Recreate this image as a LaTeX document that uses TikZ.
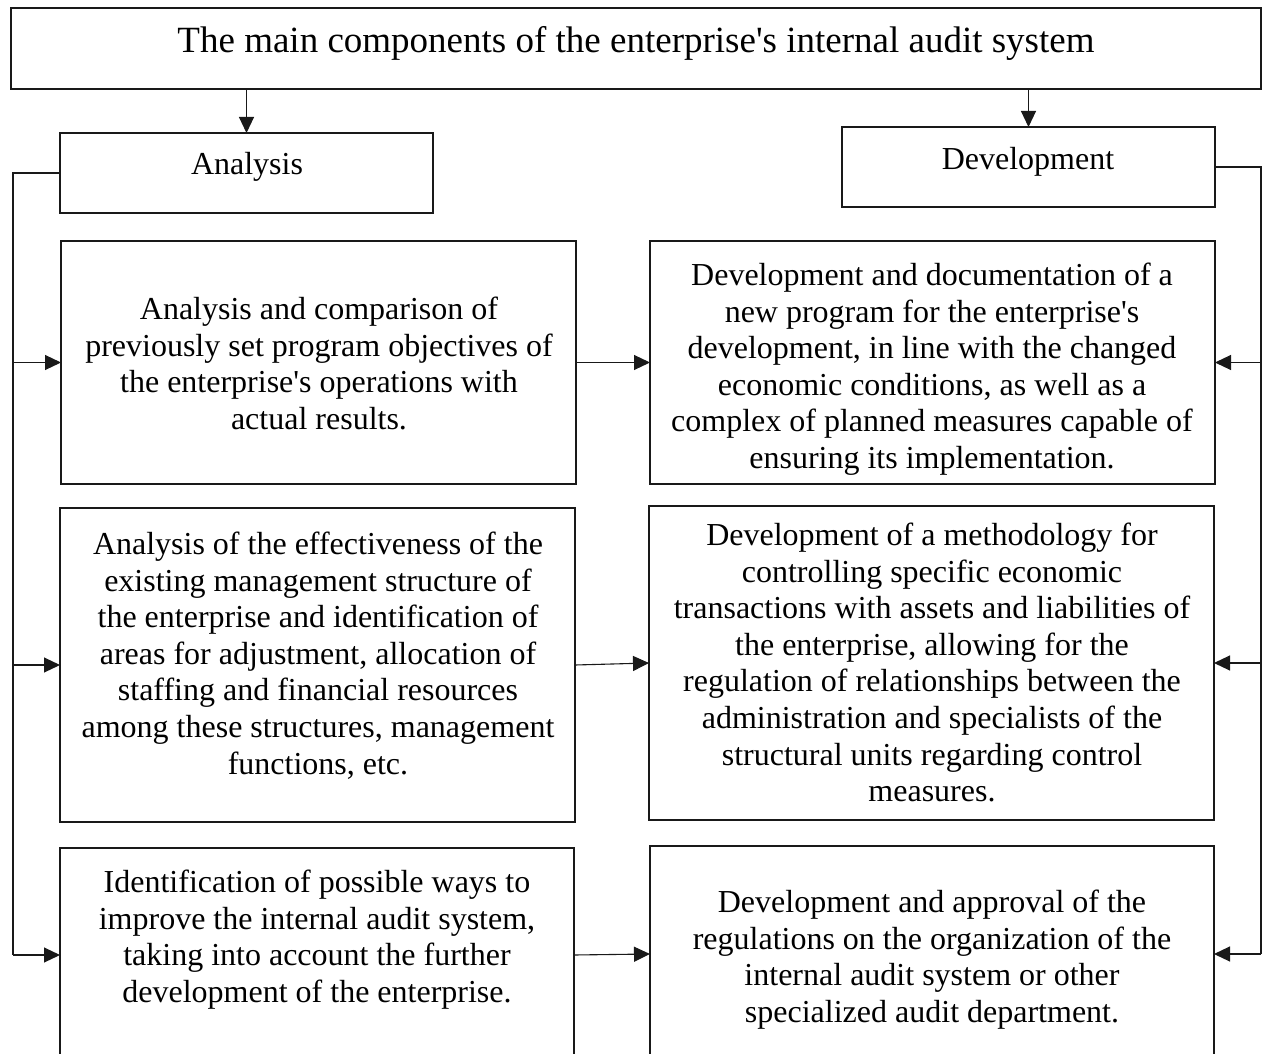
\documentclass[tikz,border=0pt]{standalone}
\usepackage{fontspec}
\setmainfont{Liberation Serif}
\usetikzlibrary{arrows.meta}
\newcommand{\apo}{\textquotesingle}
\begin{document}
\begin{tikzpicture}[x=1pt,y=-1pt,
  box/.style={draw=black!90, line width=1.1pt, rectangle, inner sep=0pt, outer sep=0pt},
  txt/.style={inner sep=0pt, outer sep=0pt, align=center, font=\fontsize{32}{36.6}\selectfont},
  ln/.style={draw=black!90, line width=1.1pt},
  arr/.style={ln, -{Triangle[length=16pt,width=15pt]}}]
\useasboundingbox (0,0) rectangle (1262,1054);
\clip (0,0) rectangle (1262,1054);
% boxes
\node[box, minimum width=1250, minimum height=81] (T) at (636,48.5) {};
\node[box, minimum width=373, minimum height=80] (A) at (246.5,173) {};
\node[box, minimum width=373, minimum height=80] (D) at (1028.5,167) {};
\node[box, minimum width=515, minimum height=243] (L1) at (318.5,362.5) {};
\node[box, minimum width=565, minimum height=243] (R1) at (932.5,362.5) {};
\node[box, minimum width=515, minimum height=314] (L2) at (317.5,665) {};
\node[box, minimum width=565, minimum height=314] (R2) at (931.5,663) {};
\node[box, minimum width=514, minimum height=252] (L3) at (317,974) {};
\node[box, minimum width=564, minimum height=254] (R3) at (932,973) {};
% texts
\node[txt, anchor=base, font=\fontsize{37}{42}\selectfont] (Tt) at (636,53) {The main components of the enterprise\apo s internal audit system};
\node[txt, anchor=base] (At) at (247,175) {Analysis};
\node[txt, anchor=base] (Dt) at (1028,170) {Development};
\node[txt, anchor=north] (L1t) at (319,297) {Analysis and comparison of\\previously set program objectives of\\the enterprise\apo s operations with\\actual results.};
\node[txt, anchor=north] (R1t) at (932,263) {Development and documentation of a\\new program for the enterprise\apo s\\development, in line with the changed\\economic conditions, as well as a\\complex of planned measures capable of\\ensuring its implementation.};
\node[txt, anchor=north] (L2t) at (318,532) {Analysis of the effectiveness of the\\existing management structure of\\the enterprise and identification of\\areas for adjustment, allocation of\\staffing and financial resources\\among these structures, management\\functions, etc.};
\node[txt, anchor=north] (R2t) at (932,523) {Development of a methodology for\\controlling specific economic\\transactions with assets and liabilities of\\the enterprise, allowing for the\\regulation of relationships between the\\administration and specialists of the\\structural units regarding control\\measures.};
\node[txt, anchor=north] (L3t) at (317,870) {Identification of possible ways to\\improve the internal audit system,\\taking into account the further\\development of the enterprise.};
\node[txt, anchor=north] (R3t) at (932,890) {Development and approval of the\\regulations on the organization of the\\internal audit system or other\\specialized audit department.};
% helper coordinates
\coordinate (lx) at (13,0);
\coordinate (rx) at (1261,0);
\coordinate (y3) at (0,955);
\coordinate (y3r) at (0,954);
% top arrows
\draw[arr] (T.south -| A.north) -- (A.north);
\draw[arr] (T.south -| D.north) -- (D.north);
% left bracket
\draw[ln] (A.west) -| (lx |- y3);
\draw[arr] (lx |- L1.west) -- (L1.west);
\draw[arr] (lx |- L2.west) -- (L2.west);
\draw[arr] (lx |- y3) -- (L3.west |- y3);
% right bracket
\draw[ln] (D.east) -| (rx |- y3r);
\draw[arr] (rx |- R1.east) -- (R1.east);
\draw[arr] (rx |- R2.east) -- (R2.east);
\draw[arr] (rx |- y3r) -- (R3.east |- y3r);
% middle arrows
\draw[arr] (L1.east) -- (R1.west);
\draw[arr] (L2.east) -- (R2.west);
\draw[arr] (L3.east |- y3) -- (R3.west |- y3r);
\end{tikzpicture}
\end{document}
